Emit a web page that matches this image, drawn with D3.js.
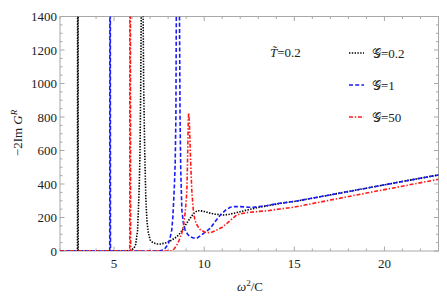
<!DOCTYPE html>
<html>
<head>
<meta charset="utf-8">
<script src="https://cdn.jsdelivr.net/npm/d3@7"></script>
<style>
	body { margin: 0; background: #fff; }
	text { font-family: "Liberation Serif", "Times New Roman", serif; fill: #222; }
</style>
</head>
<body>
<svg id="chart" width="447" height="302"></svg>
<script>
// x = omega^2 / C , y = -2 Im G^R
var blackG02 = [[2, 0], [2.97, 0], [2.98, 2000], [3.0, 2000], [3.01, 0], [5.6, 0], [5.9, 3], [6.1, 15], [6.2, 40], [6.3, 120], [6.35, 245], [6.4, 400], [6.44, 600], [6.48, 1000], [6.52, 1600], [6.6, 1600], [6.64, 1000], [6.7, 600], [6.76, 320], [6.82, 185], [6.9, 110], [7.0, 66], [7.15, 50], [7.37, 42], [7.6, 42], [7.93, 50], [8.2, 65], [8.48, 85], [8.7, 110], [8.85, 135], [9.05, 170], [9.22, 195], [9.4, 222], [9.6, 240], [9.78, 240], [10.0, 236], [10.33, 226], [10.6, 220], [11.07, 215], [11.4, 219], [11.63, 225], [12.1, 237], [12.56, 249], [13.0, 260], [13.5, 270], [14.2, 284], [15, 296], [17, 335], [19, 375], [21, 415], [23, 454]];
var blueG1 = [[2, 0], [4.76, 0], [4.77, 2000], [4.79, 2000], [4.8, 0], [7.5, 0], [7.74, 6], [7.9, 25], [8.02, 46], [8.12, 85], [8.2, 125], [8.26, 200], [8.3, 285], [8.35, 400], [8.39, 520], [8.43, 800], [8.46, 1600], [8.62, 1600], [8.66, 800], [8.7, 480], [8.76, 245], [8.85, 165], [8.94, 125], [9.08, 100], [9.22, 85], [9.4, 78], [9.6, 76], [9.78, 90], [10.0, 108], [10.33, 135], [10.6, 175], [10.9, 215], [11.2, 245], [11.44, 261], [11.7, 265], [12.0, 265], [12.4, 262], [12.74, 261], [13.1, 266], [13.5, 272], [14.2, 285], [15, 296], [17, 335], [19, 375], [21, 415], [23, 454]];
var redG50 = [[2, 0], [5.87, 0], [5.88, 2000], [5.9, 2000], [5.92, 0], [8.2, 0], [8.35, 15], [8.48, 36], [8.6, 62], [8.76, 106], [8.86, 160], [8.94, 225], [9.0, 300], [9.04, 364], [9.08, 560], [9.12, 790], [9.14, 826], [9.18, 760], [9.24, 560], [9.31, 364], [9.41, 225], [9.5, 180], [9.6, 155], [9.75, 130], [9.87, 122], [10.05, 112], [10.24, 110], [10.45, 113], [10.7, 125], [11.0, 142], [11.26, 165], [11.55, 192], [11.8, 215], [12.1, 224], [12.37, 229], [13.0, 236], [13.5, 240], [14.2, 251], [15, 262], [17, 304], [19, 346], [21, 387], [23, 428]];

var seriesNames = ['\u{1D4A2}=0.2', '\u{1D4A2}=1', '\u{1D4A2}=50'];
var seriesColors = ['#000', '#1a1aff', '#ff1a1a'];
var seriesDash = ['1.4,1.4', '4,2.2', '4,1.8,1.4,1.8'];
var xTicks = [5, 10, 15, 20];
var yTicks = [0, 200, 400, 600, 800, 1000, 1200, 1400];

function drawChart() {
	//NB: don't call these top/bottom at global scope, window.top is read only
	var pLeft = 60, pRight = 438.5, pTop = 16.5, pBottom = 251;
	var svg = d3.select('#chart');

	var x = d3.scaleLinear().domain([2, 23]).range([pLeft, pRight]);
	var y = d3.scaleLinear().domain([0, 1400]).range([pBottom, pTop]);

	svg.append('defs').append('clipPath').attr('id', 'plotclip')
		.append('rect')
		.attr('x', pLeft).attr('y', pTop)
		.attr('width', pRight - pLeft).attr('height', pBottom - pTop);

	//Frame ticks, Mathematica style (inside, on all four sides)
	var frame = svg.append('g').attr('stroke', '#a8a8a8').attr('fill', 'none');
	var xMinor = d3.range(2, 23.01, 1);
	var yMinor = d3.range(0, 1401, 50);
	xMinor.forEach(function (v) {
		var len = xTicks.indexOf(v) >= 0 ? 4.5 : 2.5;
		frame.append('line').attr('x1', x(v)).attr('x2', x(v)).attr('y1', pBottom).attr('y2', pBottom - len);
		frame.append('line').attr('x1', x(v)).attr('x2', x(v)).attr('y1', pTop).attr('y2', pTop + len);
	});
	yMinor.forEach(function (v) {
		var len = v % 200 == 0 ? 4.5 : 2.5;
		frame.append('line').attr('x1', pLeft).attr('x2', pLeft + len).attr('y1', y(v)).attr('y2', y(v));
		frame.append('line').attr('x1', pRight).attr('x2', pRight - len).attr('y1', y(v)).attr('y2', y(v));
	});
	frame.append('rect')
		.attr('x', pLeft).attr('y', pTop)
		.attr('width', pRight - pLeft).attr('height', pBottom - pTop)
		.attr('stroke-width', 1);

	//Tick labels
	svg.append('g').selectAll('text').data(xTicks).join('text')
		.attr('x', function (d) { return x(d); })
		.attr('y', 268)
		.attr('text-anchor', 'middle')
		.attr('font-size', 13)
		.text(function (d) { return d; });
	svg.append('g').selectAll('text').data(yTicks).join('text')
		.attr('x', 57)
		.attr('y', function (d) { return y(d) + 4.5; })
		.attr('text-anchor', 'end')
		.attr('font-size', 13)
		.text(function (d) { return d; });

	//Curves
	var line = d3.line()
		.x(function (d) { return x(d[0]); })
		.y(function (d) { return y(d[1]); });
	var plot = svg.append('g').attr('clip-path', 'url(#plotclip)');
	[blackG02, blueG1, redG50].forEach(function (s, i) {
		plot.append('path')
			.attr('d', line(s))
			.attr('fill', 'none')
			.attr('stroke', seriesColors[i])
			.attr('stroke-width', 1.6)
			.attr('stroke-dasharray', seriesDash[i]);
	});

	//Axis labels
	var xl = svg.append('text').attr('x', 250).attr('y', 291).attr('text-anchor', 'middle').attr('font-size', 13);
	xl.append('tspan').attr('font-style', 'italic').text('\u03c9');
	xl.append('tspan').attr('font-size', 9).attr('dy', -5).text('2');
	xl.append('tspan').attr('dy', 5).text('/C');

	var yl = svg.append('text')
		.attr('transform', 'translate(22,133) rotate(-90)')
		.attr('text-anchor', 'middle')
		.attr('font-size', 13);
	yl.append('tspan').text('\u22122Im ');
	yl.append('tspan').attr('font-style', 'italic').text('G');
	yl.append('tspan').attr('font-style', 'italic').attr('font-size', 9).attr('dy', -5).text('R');

	//Legend
	var tl = svg.append('text').attr('x', 270).attr('y', 57).attr('font-size', 13);
	tl.append('tspan').attr('font-style', 'italic').text('T\u0303');
	tl.append('tspan').text('=0.2');

	var legend = svg.append('g');
	seriesNames.forEach(function (name, i) {
		var ly = 53 + i * 32;
		legend.append('line')
			.attr('x1', 349).attr('x2', 364)
			.attr('y1', ly).attr('y2', ly)
			.attr('stroke', seriesColors[i])
			.attr('stroke-width', 1.6)
			.attr('stroke-dasharray', seriesDash[i]);
		legend.append('text')
			.attr('x', 372).attr('y', ly + 4.5)
			.attr('font-size', 13)
			.text(name);
	});
}

drawChart();
</script>
</body>
</html>
